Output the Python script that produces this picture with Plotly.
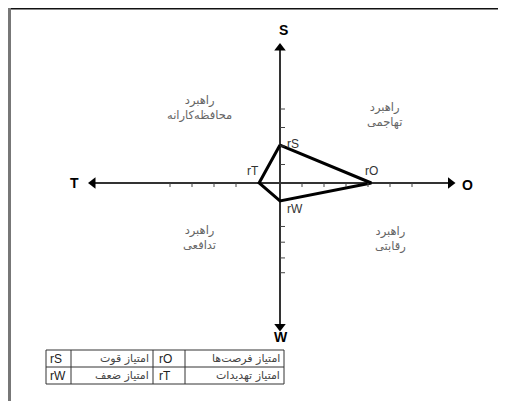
import plotly.graph_objects as go

# SWOT strategy diagram data (axis units = ticks)
point_names = ['rS', 'rO', 'rW', 'rT']
point_x = [0, 4.15, 0, -0.95]
point_y = [2.05, 0, -0.97, 0]

x_ticks = [-5, -4, -3, -2, 1, 2, 3, 4, 5, 6]
y_ticks = [4, 3, 2, 1, -2.35, -3.2, -4.05, -4.85]

axis_names = ['S', 'O', 'W', 'T']
x_end = [-8.5, 7.75]
y_end = [-7.75, 7.3]

quad_text = ['راهبرد<br>محافظه‌کارانه', 'راهبرد<br>تهاجمی', 'راهبرد<br>تدافعی', 'راهبرد<br>رقابتی']
quad_x = [-3.64, 4.77, -3.64, 5.0]
quad_y = [4.05, 3.68, -2.97, -3.03]

table_codes_1 = ['rS', 'rW']
table_names_1 = ['امتیاز قوت', 'امتیاز ضعف']
table_codes_2 = ['rO', 'rT']
table_names_2 = ['امتیاز فرصت‌ها', 'امتیاز تهدیدات']

# page body has an 8px margin, so the figure starts at (8, 8) of the window
OFF = 8
W, H = 506 - OFF, 401 - OFF
ox, oy = 280 - OFF, 183 - OFF   # origin in figure pixels
ux, uy = 22, 18.5               # pixels per unit

def px(x):
    return (x - OFF) / W

def py(y):
    return 1 - (y - OFF) / H

fig = go.Figure()

# axes lines
fig.add_trace(go.Scatter(x=x_end, y=[0, 0], mode='lines',
                         line=dict(color='#333', width=2), hoverinfo='skip'))
fig.add_trace(go.Scatter(x=[0, 0], y=y_end, mode='lines',
                         line=dict(color='#333', width=2), hoverinfo='skip'))
# arrow heads
fig.add_trace(go.Scatter(
    x=[0, x_end[1], 0, x_end[0]], y=[y_end[1], 0, y_end[0], 0], mode='markers',
    marker=dict(symbol=['triangle-up', 'triangle-right', 'triangle-down', 'triangle-left'],
                size=10, color='black'),
    hoverinfo='skip'))

# polygon
fig.add_trace(go.Scatter(x=point_x + [point_x[0]], y=point_y + [point_y[0]], mode='lines',
                         line=dict(color='black', width=3), hoverinfo='skip'))

shapes = []
for t in x_ticks:
    shapes.append(dict(type='line', xref='x', yref='y', ysizemode='pixel', yanchor=0,
                       x0=t, x1=t, y0=0, y1=-4, line=dict(color='#444', width=1)))
for t in y_ticks:
    shapes.append(dict(type='line', xref='x', yref='y', xsizemode='pixel', xanchor=0,
                       x0=0, x1=5, y0=t, y1=t, line=dict(color='#444', width=1)))

# frame
shapes.append(dict(type='line', xref='paper', yref='paper', x0=0, x1=1,
                   y0=py(8.8), y1=py(8.8), line=dict(color='#111', width=1.5)))
shapes.append(dict(type='line', xref='paper', yref='paper', x0=px(9.5), x1=px(9.5),
                   y0=py(8), y1=0, line=dict(color='#777', width=3)))

# legend table
tab_x = [46, 71, 153, 185, 284]
tab_y = [350, 367, 384]
shapes.append(dict(type='rect', xref='paper', yref='paper', x0=px(tab_x[0]), x1=px(tab_x[-1]),
                   y0=py(tab_y[0]), y1=py(tab_y[-1]), line=dict(color='#333', width=1)))
for cx in tab_x[1:-1]:
    shapes.append(dict(type='line', xref='paper', yref='paper', x0=px(cx), x1=px(cx),
                       y0=py(tab_y[0]), y1=py(tab_y[-1]), line=dict(color='#333', width=1)))
shapes.append(dict(type='line', xref='paper', yref='paper', x0=px(tab_x[0]), x1=px(tab_x[-1]),
                   y0=py(tab_y[1]), y1=py(tab_y[1]), line=dict(color='#333', width=1)))

annotations = []
lat = dict(family='Arial, Liberation Sans, sans-serif')
per = dict(family='DejaVu Sans, Arial, sans-serif')

for i in range(2):
    yc = py((tab_y[i] + tab_y[i + 1]) / 2)
    annotations.append(dict(xref='paper', yref='paper', x=px(tab_x[0] + 2), y=yc, text=table_codes_1[i],
                            xanchor='left', yanchor='middle', showarrow=False,
                            font=dict(size=12, color='#222', **lat)))
    annotations.append(dict(xref='paper', yref='paper', x=px(tab_x[2] - 2), y=yc, text=table_names_1[i],
                            xanchor='right', yanchor='middle', showarrow=False,
                            font=dict(size=11, color='#444', **per)))
    annotations.append(dict(xref='paper', yref='paper', x=px(tab_x[2] + 4), y=yc, text=table_codes_2[i],
                            xanchor='left', yanchor='middle', showarrow=False,
                            font=dict(size=12, color='#222', **lat)))
    annotations.append(dict(xref='paper', yref='paper', x=px(tab_x[4] - 2), y=yc, text=table_names_2[i],
                            xanchor='right', yanchor='middle', showarrow=False,
                            font=dict(size=11, color='#444', **per)))

# quadrant strategy labels
for t, x, y in zip(quad_text, quad_x, quad_y):
    annotations.append(dict(x=x, y=y, text=t, showarrow=False, align='center',
                            font=dict(size=11.5, color='#666', **per)))

# axis letters
axis_pos = [(0.15, 8.27), (8.5, -0.1), (0.05, -8.32), (-9.32, 0)]
for name, (x, y) in zip(axis_names, axis_pos):
    annotations.append(dict(x=x, y=y, text='<b>%s</b>' % name, showarrow=False,
                            font=dict(size=14, color='black', **lat)))

# point labels
label_style = {
    'rS': dict(xanchor='left', yanchor='middle', xshift=5, yshift=1),
    'rO': dict(xanchor='center', yanchor='bottom', xshift=0, yshift=3),
    'rW': dict(xanchor='left', yanchor='top', xshift=5, yshift=1),
    'rT': dict(xanchor='right', yanchor='bottom', xshift=2, yshift=3),
}
for n, x, y in zip(point_names, point_x, point_y):
    annotations.append(dict(x=x, y=y, text=n, showarrow=False, font=dict(size=12, color='#333', **lat),
                            **label_style[n]))

fig.update_layout(
    width=W, height=H,
    margin=dict(l=0, r=0, t=0, b=0),
    paper_bgcolor='white', plot_bgcolor='white',
    showlegend=False,
    xaxis=dict(range=[-ox / ux, (W - ox) / ux], visible=False, fixedrange=True),
    yaxis=dict(range=[-(H - oy) / uy, oy / uy], visible=False, fixedrange=True),
    shapes=shapes,
    annotations=annotations,
)

fig.write_html("out.html")
